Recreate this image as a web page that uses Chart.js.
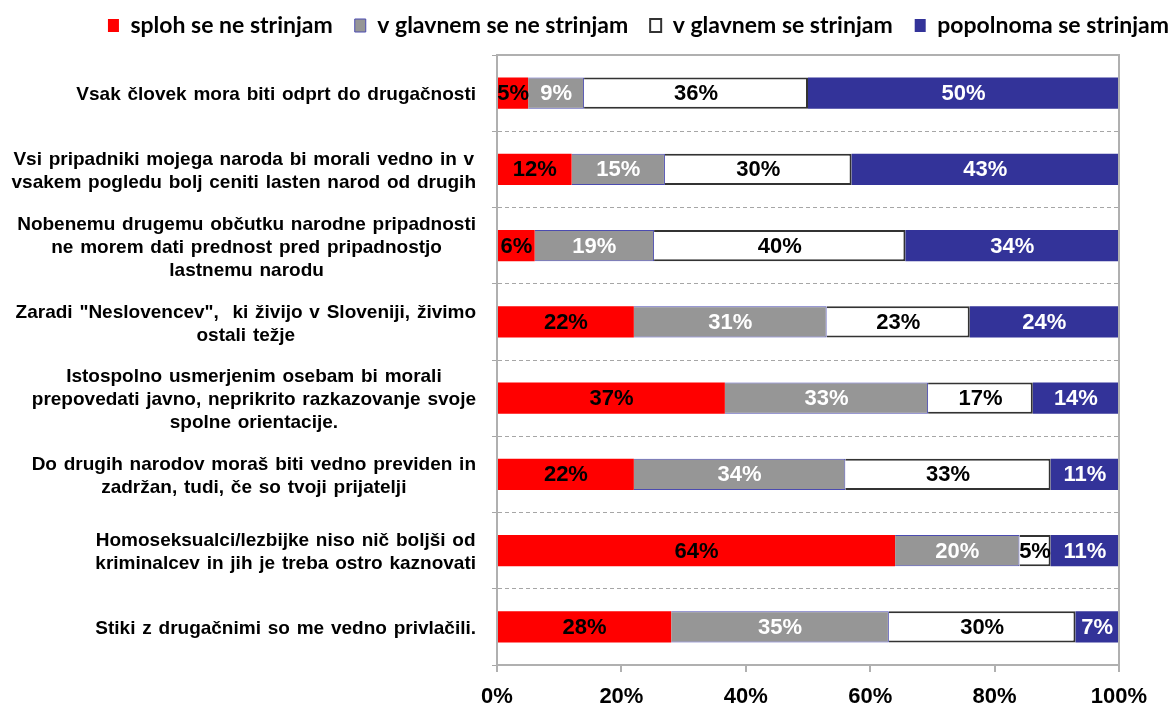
<!DOCTYPE html>
<html lang="sl">
<head>
  <meta charset="UTF-8" />
  <title>Stališča do drugačnosti</title>
  <script src="https://cdn.jsdelivr.net/npm/chart.js"></script>
  <style>
    * {
      box-sizing: border-box;
      margin: 0;
      padding: 0;
    }

    body {
      background: #ffffff;
      width: 1174px;
      height: 709px;
      overflow: hidden;
    }

    .chart-box {
      position: relative;
      width: 1174px;
      height: 709px;
    }
  </style>
</head>
<body>
  <div class="chart-box">
    <canvas id="attitudesChart"></canvas>
  </div>

  <script>
    const statements = [
      ['Vsak človek mora biti odprt do drugačnosti'],
      ['Vsi pripadniki mojega naroda bi morali vedno in v', 'vsakem pogledu bolj ceniti lasten narod od drugih'],
      ['Nobenemu drugemu občutku narodne pripadnosti', 'ne morem dati prednost pred pripadnostjo', 'lastnemu narodu'],
      ['Zaradi "Neslovencev",  ki živijo v Sloveniji, živimo', 'ostali težje'],
      ['Istospolno usmerjenim osebam bi morali', 'prepovedati javno, neprikrito razkazovanje svoje', 'spolne orientacije.'],
      ['Do drugih narodov moraš biti vedno previden in', 'zadržan, tudi, če so tvoji prijatelji'],
      ['Homoseksualci/lezbijke niso nič boljši od', 'kriminalcev in jih je treba ostro kaznovati'],
      ['Stiki z drugačnimi so me vedno privlačili.']
    ];

    const seriesNames = ['sploh se ne strinjam', 'v glavnem se ne strinjam', 'v glavnem se strinjam', 'popolnoma se strinjam'];

    // odstotki, kot so izpisani na stolpcih
    const splohNe = [5, 12, 6, 22, 37, 22, 64, 28];
    const vGlavnemNe = [9, 15, 19, 31, 33, 34, 20, 35];
    const vGlavnemDa = [36, 30, 40, 23, 17, 33, 5, 30];
    const popolnoma = [50, 43, 34, 24, 14, 11, 11, 7];

    const xTicks = [0, 20, 40, 60, 80, 100];

    // 100% stacked: vsaka vrstica se raztegne na celo širino
    const rowTotals = splohNe.map((v, i) => v + vGlavnemNe[i] + vGlavnemDa[i] + popolnoma[i]);
    const toShare = arr => arr.map((v, i) => v / rowTotals[i] * 100);

    const arial = '"Liberation Sans", Arial, sans-serif';
    const axisGray = '#b0b0b0';

    const barLabels = {
      id: 'barLabels',
      afterDatasetsDraw(chart) {
        const ctx = chart.ctx;
        ctx.save();
        ctx.font = 'bold 22px ' + arial;
        ctx.textAlign = 'center';
        ctx.textBaseline = 'middle';
        chart.data.datasets.forEach((ds, di) => {
          chart.getDatasetMeta(di).data.forEach((bar, i) => {
            ctx.fillStyle = ds.labelColor;
            ctx.fillText(ds.raw[i] + '%', (bar.x + bar.base) / 2, bar.y + 1);
          });
        });
        ctx.restore();
      }
    };

    // oznake trditev: blok poravnan desno, vrstice znotraj bloka sredinsko
    const statementLabels = {
      id: 'statementLabels',
      afterDraw(chart) {
        const ctx = chart.ctx;
        const yScale = chart.scales.y;
        ctx.save();
        ctx.font = 'bold 19px ' + arial;
        ctx.fillStyle = '#000000';
        ctx.textAlign = 'center';
        ctx.textBaseline = 'middle';
        if ('wordSpacing' in ctx) ctx.wordSpacing = '1.5px';
        statements.forEach((lines, i) => {
          const widest = Math.max(...lines.map(l => ctx.measureText(l).width));
          const cx = yScale.right - 21 - widest / 2;
          const cy = yScale.getPixelForValue(i) + 2;
          lines.forEach((line, k) => {
            ctx.fillText(line, cx, cy + (k - (lines.length - 1) / 2) * 23);
          });
        });
        ctx.restore();
      }
    };

    const plotFrame = {
      id: 'plotFrame',
      afterDraw(chart) {
        const { ctx, chartArea } = chart;
        ctx.save();
        ctx.strokeStyle = axisGray;
        ctx.lineWidth = 2;
        ctx.beginPath();
        ctx.moveTo(chartArea.left, chartArea.top);
        ctx.lineTo(chartArea.right, chartArea.top);
        ctx.lineTo(chartArea.right, chartArea.bottom);
        ctx.stroke();
        ctx.restore();
      }
    };

    const ctx = document.getElementById('attitudesChart').getContext('2d');
    const attitudesChart = new Chart(ctx, {
      type: 'bar',
      data: {
        labels: statements,
        datasets: [
          {
            label: seriesNames[0],
            data: toShare(splohNe),
            raw: splohNe,
            labelColor: '#000000',
            backgroundColor: '#ff0000',
            borderColor: '#c00000',
            borderWidth: 0
          },
          {
            label: seriesNames[1],
            data: toShare(vGlavnemNe),
            raw: vGlavnemNe,
            labelColor: '#ffffff',
            backgroundColor: '#969696',
            borderColor: '#4b4bb0',
            borderWidth: 1
          },
          {
            label: seriesNames[2],
            data: toShare(vGlavnemDa),
            raw: vGlavnemDa,
            labelColor: '#000000',
            backgroundColor: '#ffffff',
            borderColor: '#333333',
            borderWidth: 2
          },
          {
            label: seriesNames[3],
            data: toShare(popolnoma),
            raw: popolnoma,
            labelColor: '#ffffff',
            backgroundColor: '#333399',
            borderColor: '#333399',
            borderWidth: 0
          }
        ]
      },
      options: {
        indexAxis: 'y',
        responsive: true,
        maintainAspectRatio: false,
        animation: false,
        barPercentage: 0.41,
        categoryPercentage: 1,
        layout: {
          padding: { top: -8, right: -17, bottom: 0, left: 0 }
        },
        plugins: {
          legend: {
            position: 'top',
            align: 'end',
            labels: {
              color: '#000000',
              font: { family: 'Lato', size: 23, weight: 'bold' },
              boxWidth: 11,
              boxHeight: 13,
              padding: 22
            }
          },
          tooltip: { enabled: false }
        },
        scales: {
          x: {
            stacked: true,
            min: 0,
            max: 100,
            afterBuildTicks(scale) {
              scale.ticks = xTicks.map(v => ({ value: v }));
            },
            afterFit(scale) {
              scale.height = 44;
            },
            grid: {
              drawOnChartArea: false,
              drawTicks: true,
              tickLength: 7,
              color: axisGray,
              lineWidth: 2
            },
            border: { display: true, color: axisGray, width: 2 },
            ticks: {
              padding: 12,
              color: '#000000',
              font: { family: arial, size: 22, weight: 'bold' },
              callback: v => v + '%'
            }
          },
          y: {
            stacked: true,
            afterFit(scale) {
              scale.width = 497;
            },
            grid: {
              offset: true,
              drawTicks: true,
              tickLength: 5,
              color: '#a6a6a6',
              lineWidth: 1
            },
            border: { display: true, color: axisGray, width: 2, dash: [4, 3] },
            ticks: { display: false }
          },
          yRight: {
            position: 'right',
            type: 'linear',
            display: true,
            grid: { display: false },
            border: { display: false },
            ticks: { display: false },
            afterFit(scale) {
              scale.width = 72;
            }
          },
          xTop: {
            position: 'top',
            type: 'linear',
            display: true,
            grid: { display: false },
            border: { display: false },
            ticks: { display: false },
            afterFit(scale) {
              scale.height = 8;
            }
          }
        }
      },
      plugins: [barLabels, statementLabels, plotFrame]
    });
  </script>
</body>
</html>
